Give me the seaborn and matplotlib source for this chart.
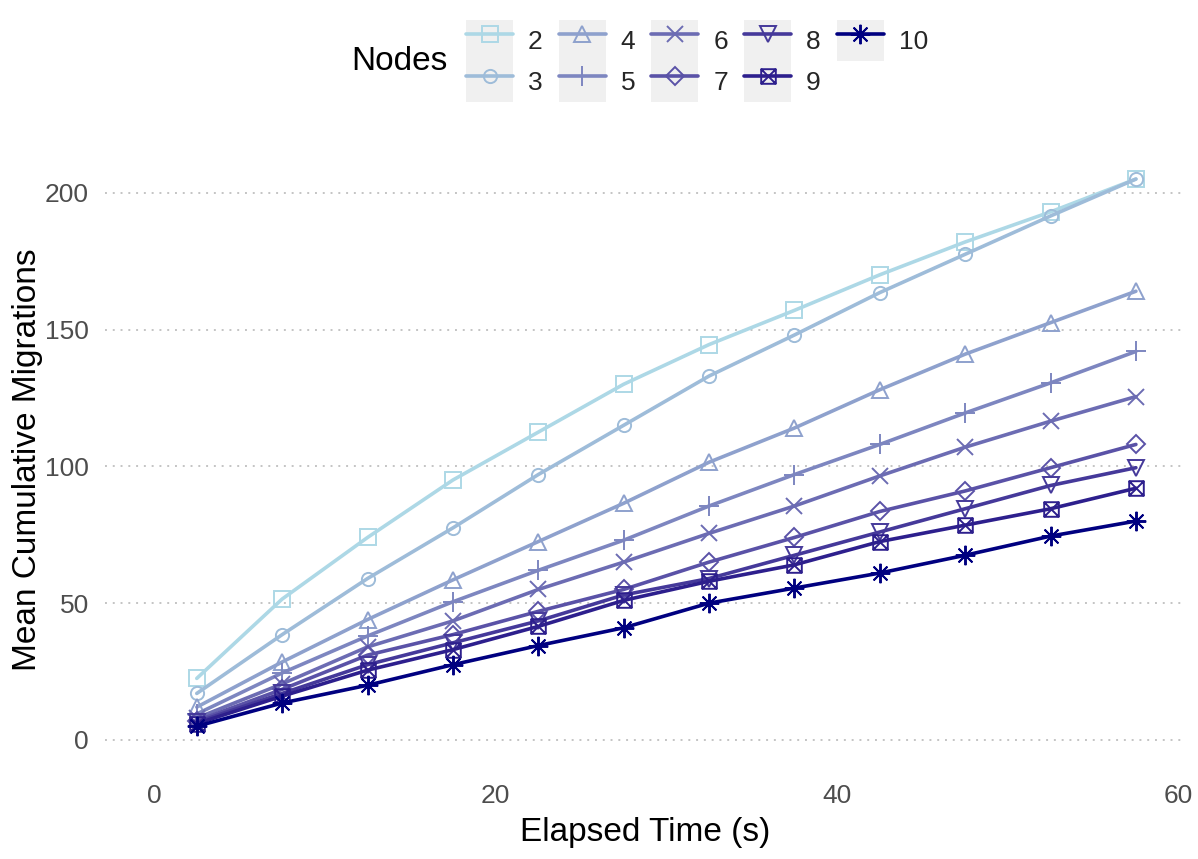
import numpy as np
import pandas as pd
import matplotlib
matplotlib.use("Agg")
import matplotlib.pyplot as plt
import matplotlib.patches as mpatches
from matplotlib.path import Path
from matplotlib.legend_handler import HandlerTuple
import seaborn as sns

# ---- data -------------------------------------------------------------
elapsed = [2.5, 7.5, 12.5, 17.5, 22.5, 27.5, 32.5, 37.5, 42.5, 47.5, 52.5, 57.5]
nodes = ["2", "3", "4", "5", "6", "7", "8", "9", "10"]

mig_2 = [22.5, 51.5, 74, 95, 112.5, 130, 144.5, 157, 170, 182, 193, 205]
mig_3 = [17, 38.5, 59, 77.5, 97, 115, 133, 148, 163.5, 177.5, 191.5, 205]
mig_4 = [12, 28.5, 44, 58.5, 72.5, 86.5, 101.5, 114, 128, 141, 152.5, 164]
mig_5 = [9.5, 24.5, 38, 50.5, 62, 73, 85.5, 97, 108, 119.5, 130.5, 142]
mig_6 = [8, 20.5, 34, 43.5, 55, 65, 75.5, 85.5, 96.5, 107, 116.5, 125.5]
mig_7 = [7, 18.5, 31, 38.5, 47, 55, 65, 74, 83.5, 91, 99.5, 108]
mig_8 = [6.5, 17, 27.5, 35.5, 43.5, 53, 59, 67.5, 76, 84.5, 93, 99.5]
mig_9 = [6, 16, 25.5, 33, 41.5, 51, 58, 64, 72.5, 78.5, 84.5, 92]
mig_10 = [5, 13.5, 20, 27.5, 34.5, 41, 50, 55.5, 61, 67.5, 74.5, 80]

series = [mig_2, mig_3, mig_4, mig_5, mig_6, mig_7, mig_8, mig_9, mig_10]

x_ticks = [0, 20, 40, 60]
y_ticks = [0, 50, 100, 150, 200]

df = pd.DataFrame(
    [(t, v, n) for n, vals in zip(nodes, series) for t, v in zip(elapsed, vals)],
    columns=["time", "migrations", "nodes"],
)


# ---- colour gradient (light blue -> navy, interpolated in CIE Lab) -----
_M = np.array([[0.4124, 0.3576, 0.1805],
               [0.2126, 0.7152, 0.0722],
               [0.0193, 0.1192, 0.9505]])
_WHITE = np.array([0.95047, 1.0, 1.08883])


def _srgb_to_lab(hexcol):
    rgb = np.array(matplotlib.colors.to_rgb(hexcol))
    lin = np.where(rgb <= 0.04045, rgb / 12.92, ((rgb + 0.055) / 1.055) ** 2.4)
    xyz = _M @ lin / _WHITE
    f = np.where(xyz > 0.008856, np.cbrt(xyz), 7.787 * xyz + 16 / 116)
    return np.array([116 * f[1] - 16, 500 * (f[0] - f[1]), 200 * (f[1] - f[2])])


def _lab_to_srgb(lab):
    fy = (lab[0] + 16) / 116
    f = np.array([fy + lab[1] / 500, fy, fy - lab[2] / 200])
    xyz = np.where(f ** 3 > 0.008856, f ** 3, (f - 16 / 116) / 7.787) * _WHITE
    lin = np.clip(np.linalg.inv(_M) @ xyz, 0, 1)
    rgb = np.where(lin <= 0.0031308, 12.92 * lin, 1.055 * lin ** (1 / 2.4) - 0.055)
    return tuple(np.clip(rgb, 0, 1))


lab_lo, lab_hi = _srgb_to_lab("#ADD8E6"), _srgb_to_lab("#000080")
palette = {n: _lab_to_srgb(lab_lo + (lab_hi - lab_lo) * i / (len(nodes) - 1))
           for i, n in enumerate(nodes)}

# ---- marker shapes ------------------------------------------------------
square_cross = Path(
    [(-1, -1), (1, -1), (1, 1), (-1, 1), (-1, -1), (-1, -1), (1, 1), (-1, 1), (1, -1)],
    [Path.MOVETO, Path.LINETO, Path.LINETO, Path.LINETO, Path.CLOSEPOLY,
     Path.MOVETO, Path.LINETO, Path.MOVETO, Path.LINETO],
)
marker_shapes = {"2": "s", "3": "o", "4": "^", "5": "+", "6": "x",
                 "7": "D", "8": "v", "9": square_cross, "10": (8, 2, 0)}
marker_sizes = {"2": 11.0, "3": 9.5, "4": 12.0, "5": 14.0, "6": 11.0,
                "7": 9.5, "8": 12.0, "9": 10.5, "10": 14.0}

# ---- figure -------------------------------------------------------------
sns.set_style("white")
plt.rcParams["font.family"] = ["Liberation Sans", "DejaVu Sans"]

W, H = 1198, 859
fig = plt.figure(figsize=(W / 100, H / 100), dpi=100)
ax = fig.add_axes([105 / W, (H - 768) / H, 1080 / W, 617 / H])

sns.lineplot(data=df, x="time", y="migrations", hue="nodes", hue_order=nodes,
             palette=palette, linewidth=2.6, legend=False, errorbar=None, ax=ax)

for line, n in zip(ax.lines, nodes):
    line.set_marker(marker_shapes[n])
    line.set_markersize(marker_sizes[n])
    line.set_markerfacecolor("none")
    line.set_markeredgecolor(palette[n])
    line.set_markeredgewidth(1.4)
    line.set_solid_joinstyle("round")

ax.set_xlim(-2.875, 60.375)
ax.set_ylim(-10.25, 215.25)
ax.set_xticks(x_ticks)
ax.set_yticks(y_ticks)
for s in ax.spines.values():
    s.set_visible(False)
ax.yaxis.grid(True, linestyle=(0, (1, 3)), color="#C4C4C4", linewidth=1.4)
ax.xaxis.grid(False)
ax.set_axisbelow(True)
ax.tick_params(axis="both", length=6.5, width=1.1, color="#333333",
               labelsize=19, labelcolor="#4D4D4D", pad=5)

ax.set_xlabel("Elapsed Time (s)", fontsize=24, color="black")
ax.set_ylabel("Mean Cumulative Migrations", fontsize=24, color="black")
ax.xaxis.label.set_va("center")
ax.yaxis.label.set_va("center")
ax.xaxis.set_label_coords(0.5, (768 - 832) / 617)
ax.yaxis.set_label_coords((28 - 105) / 1080, 0.5)

# ---- legend (grey key boxes, two rows, filled column-wise) -------------
handles = [(mpatches.Rectangle((0, 0), 1, 1, facecolor="#F0F0F0", edgecolor="none"), line)
           for line in ax.lines]
em = 19 * 100 / 72
fig.legend(handles, nodes, ncol=5, loc="upper left",
           bbox_to_anchor=(466 / W, 1 - 20 / H), bbox_transform=fig.transFigure,
           frameon=False, borderpad=0, borderaxespad=0, fontsize=19,
           handlelength=47 / em, handleheight=2.02, labelspacing=0,
           handletextpad=15 / em, columnspacing=16 / em,
           handler_map={tuple: HandlerTuple(ndivide=1, pad=0)})
fig.text(448 / W, 1 - 62 / H, "Nodes", ha="right", va="center", fontsize=24, color="black")

fig.savefig("out.png", dpi=100, facecolor="white")
